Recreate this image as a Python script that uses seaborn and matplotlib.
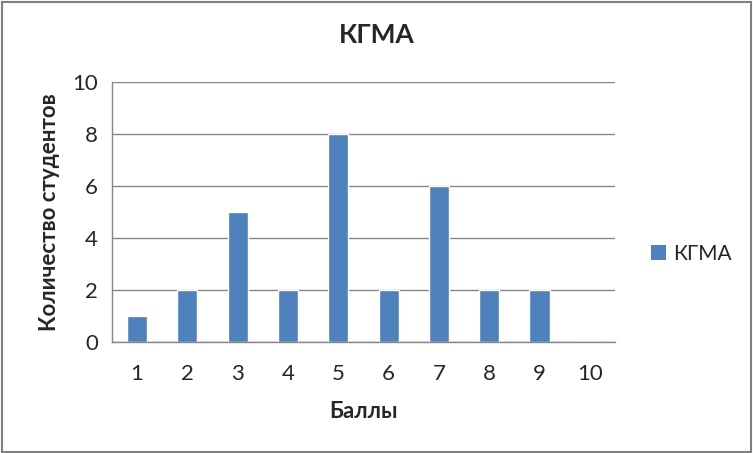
import matplotlib
matplotlib.use('Agg')
import matplotlib.pyplot as plt
from matplotlib.patches import Rectangle, Patch
import numpy as np
import pandas as pd
import seaborn as sns

sns.set_style("white")
plt.rcParams['font.family'] = ['Lato', 'DejaVu Sans']

# data
scores = [1, 2, 3, 4, 5, 6, 7, 8, 9, 10]
students = [1, 2, 5, 2, 8, 2, 6, 2, 2, 0]
series_name = 'КГМА'
bar_color = '#4F81BD'
grid_color = '#868686'

df = pd.DataFrame({'score': [str(s) for s in scores], 'count': students})

fig = plt.figure(figsize=(7.53, 4.53), dpi=100)
ax = fig.add_axes([0.1487, 0.245, 0.668, 0.574])

sns.barplot(data=df, x='score', y='count', color=bar_color, width=0.4,
            saturation=1, ax=ax)

ax.set_ylim(0, 10)
ax.set_xlim(-0.5, len(scores) - 0.5)
ax.set_yticks(range(0, 11, 2))
ax.yaxis.grid(True, color=grid_color, linewidth=1)
ax.set_axisbelow(True)

for side in ['top', 'right']:
    ax.spines[side].set_visible(False)
for side in ['left', 'bottom']:
    ax.spines[side].set_color(grid_color)
    ax.spines[side].set_linewidth(1)

# category separators on x axis
ax.set_xticks(np.arange(-0.5, len(scores), 1.0), minor=True)
ax.tick_params(axis='x', which='minor', length=10, color=grid_color, width=1)
ax.tick_params(axis='x', which='major', length=0, pad=16, labelsize=16)
ax.tick_params(axis='y', length=6, color=grid_color, width=1, pad=4, labelsize=16)

ax.set_xlabel('Баллы', fontsize=16, fontweight='bold', labelpad=12)
ax.set_ylabel('Количество студентов', fontsize=16, fontweight='bold', labelpad=9)
fig.suptitle(series_name, fontsize=19, fontweight='bold', y=0.95)

handle = Patch(facecolor=bar_color, edgecolor='none')
fig.legend([handle], [series_name], loc='center left',
           bbox_to_anchor=(0.84, 0.44), frameon=False, fontsize=15,
           handlelength=0.7, handleheight=0.7, handletextpad=0.35)

fig.patches.append(Rectangle((0.002, 0.003), 0.995, 0.993, transform=fig.transFigure,
                             fill=False, edgecolor='#7f7f7f', linewidth=1.5))

fig.savefig('out.png', dpi=100)
